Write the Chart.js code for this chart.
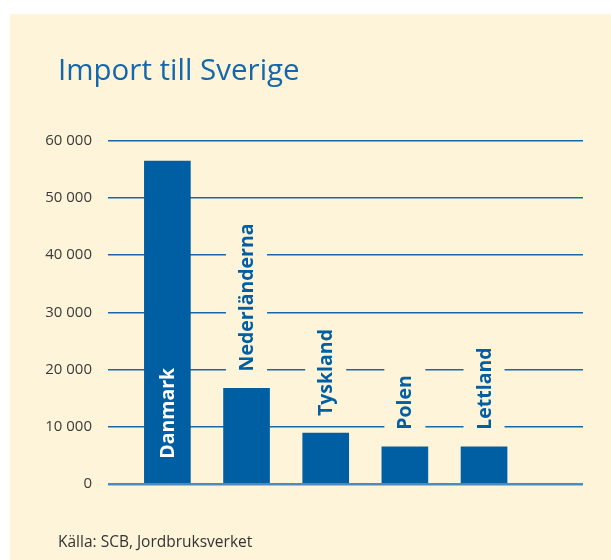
<!DOCTYPE html>
<html lang="sv">
<head>
<meta charset="utf-8">
<script src="https://cdn.jsdelivr.net/npm/chart.js@4/dist/chart.umd.min.js"></script>
<style>
  html, body { margin: 0; padding: 0; background: #ffffff; }
  #panel { position: absolute; left: 10px; top: 14px; width: 601px; height: 546px; background: #fef4d9; }
  #c { display: block; }
</style>
</head>
<body>
<div id="panel"><canvas id="c" width="601" height="546"></canvas></div>
<script>
const titleText = 'Import till Sverige';
const sourceText = 'Källa: SCB, Jordbruksverket';
const categories = ['Danmark', 'Nederländerna', 'Tyskland', 'Polen', 'Lettland'];
const values = [56400, 16700, 8900, 6500, 6500];
const yTicks = [0, 10000, 20000, 30000, 40000, 50000, 60000];

const BLUE = '#005fa2';
const GRID = '#1a67a6';
const BG = '#fef4d9';

function fmt(v) {
  return String(v).replace(/\B(?=(\d{3})+(?!\d))/g, ' ');
}

// let the y tick labels extend into the left padding without being clipped
const widenYLabelArea = {
  id: 'widenYLabelArea',
  afterLayout(chart) {
    chart.scales.y.left = 0;
  }
};

const barLabels = {
  id: 'barLabels',
  afterDatasetsDraw(chart) {
    const ctx = chart.ctx;
    const meta = chart.getDatasetMeta(0);
    ctx.save();
    ctx.font = 'bold 19.5px "Open Sans"';
    ctx.textBaseline = 'middle';
    ctx.textAlign = 'left';
    meta.data.forEach((bar, i) => {
      const label = categories[i];
      const w = ctx.measureText(label).width;
      const h = bar.base - bar.y;
      const x = bar.x;
      let start, color;
      if (h > w + 48) {
        start = bar.base - 24;
        color = '#ffffff';
      } else {
        start = bar.y - 17;
        color = BLUE;
        ctx.fillStyle = BG;
        ctx.fillRect(x - 20.5, start - w - 14, 41, w + 16);
      }
      ctx.save();
      ctx.translate(x + 1, start);
      ctx.rotate(-Math.PI / 2);
      ctx.fillStyle = color;
      ctx.fillText(label, 0, 0);
      ctx.restore();
    });
    ctx.restore();
  }
};

function draw() {
  new Chart(document.getElementById('c'), {
    type: 'bar',
    data: {
      datasets: [{
        data: categories.map((c, i) => ({ x: i, y: values[i] })),
        backgroundColor: BLUE,
        borderWidth: 0,
        barThickness: 46
      }]
    },
    options: {
      responsive: false,
      animation: false,
      layout: { padding: { left: 48, right: 28, top: 0, bottom: 0 } },
      plugins: {
        legend: { display: false },
        tooltip: { enabled: false },
        title: {
          display: true,
          text: titleText,
          align: 'start',
          color: '#1467ac',
          font: { family: 'Open Sans', size: 29.5, weight: 'normal', lineHeight: 1.2 },
          padding: { top: 40, bottom: 51.1 }
        },
        subtitle: {
          display: true,
          text: sourceText,
          position: 'bottom',
          align: 'start',
          color: '#333333',
          font: { family: 'Open Sans', size: 15.5, weight: 'normal', lineHeight: 1.2 },
          padding: { top: 49, bottom: 8.4 }
        }
      },
      scales: {
        x: {
          type: 'linear',
          min: -0.75,
          max: 5.25,
          offset: false,
          display: false
        },
        y: {
          min: 0,
          max: 60000,
          afterFit: (s) => { s.width = 50; },
          afterBuildTicks: (s) => { s.ticks = yTicks.map(v => ({ value: v })); },
          border: { display: false },
          grid: {
            drawTicks: false,
            color: (c) => c.tick && c.tick.value === 0 ? '#4a8cc0' : GRID,
            lineWidth: (c) => c.tick && c.tick.value === 0 ? 2.5 : 1.5
          },
          ticks: {
            padding: 16,
            color: '#3a3a3a',
            font: { family: 'Open Sans', size: 15 },
            callback: (v) => fmt(v)
          }
        }
      }
    },
    plugins: [widenYLabelArea, barLabels]
  });
}

Promise.all([
  document.fonts.load('20px "Open Sans"'),
  document.fonts.load('bold 20px "Open Sans"')
]).then(draw, draw);
</script>
</body>
</html>
